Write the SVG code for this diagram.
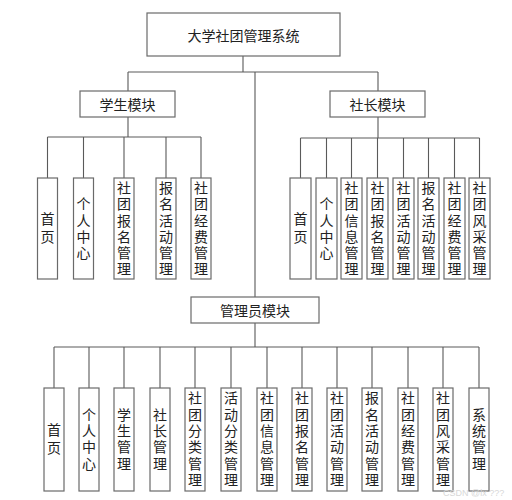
<svg xmlns="http://www.w3.org/2000/svg" width="512" height="500" viewBox="0 0 512 500">
<style>
.b{fill:#fff;stroke:#6a6a6a;stroke-width:1.2}
.c{fill:none;stroke:#5a5a5a;stroke-width:1.1}
.t{font-family:"Noto Sans CJK SC","Noto Sans",sans-serif;font-size:14px;fill:#222;text-anchor:middle;dominant-baseline:central}
.v{font-family:"Noto Sans CJK SC","Noto Sans",sans-serif;font-size:14px;fill:#222;text-anchor:middle;writing-mode:vertical-rl;letter-spacing:2.3px}
.v2{letter-spacing:4px}
.w{font-family:"Liberation Sans",sans-serif;font-size:9px;fill:#d8d8d8}
</style>
<rect width="512" height="500" fill="#fff"/>
<g id="connectors">
<path class="c" d="M243,56V72M128,72H378M255,72V297M128,72V91M378,72V91"/>
<path class="c" d="M128,117V137M47.5,137H201M47.5,137V178M83.5,137V178M124,137V178M166,137V178M201,137V178"/>
<path class="c" d="M378,117V138M300.5,138H479.5M300.5,138V178M326.5,138V178M351.5,138V178M377.5,138V178M403.5,138V178M428.5,138V178M454.5,138V178M479.5,138V178"/>
<path class="c" d="M255,323V347M54,347H479M54,347V388M89,347V388M124,347V388M160,347V388M195,347V388M231,347V388M267,347V388M302,347V388M337,347V388M372,347V388M408,347V388M443,347V388M479,347V388"/>
</g>
<g id="root"><rect class="b" x="147" y="13" width="193" height="43"/><text class="t" x="243.5" y="35">大学社团管理系统</text></g>
<g id="student"><rect class="b" x="80" y="91" width="95" height="26"/><text class="t" x="127.5" y="104">学生模块</text></g>
<g id="president"><rect class="b" x="330" y="91" width="95" height="26"/><text class="t" x="377.5" y="104">社长模块</text></g>
<g id="admin"><rect class="b" x="191" y="297" width="128" height="26"/><text class="t" x="255" y="310">管理员模块</text></g>

<g id="s1"><rect class="b" x="37.5" y="178" width="20" height="101"/><text class="v v2" x="47.5" y="230">首页</text></g>
<g id="s2"><rect class="b" x="73.5" y="178" width="20" height="101"/><text class="v" x="83.5" y="229.5">个人中心</text></g>
<g id="s3"><rect class="b" x="114" y="178" width="20" height="101"/><text class="v" x="124" y="229.5">社团报名管理</text></g>
<g id="s4"><rect class="b" x="156" y="178" width="20" height="101"/><text class="v" x="166" y="229.5">报名活动管理</text></g>
<g id="s5"><rect class="b" x="191" y="178" width="20" height="101"/><text class="v" x="201" y="229.5">社团经费管理</text></g>

<g id="p1"><rect class="b" x="290" y="178" width="21" height="101"/><text class="v v2" x="300.5" y="230">首页</text></g>
<g id="p2"><rect class="b" x="316" y="178" width="21" height="101"/><text class="v" x="326.5" y="229.5">个人中心</text></g>
<g id="p3"><rect class="b" x="341" y="178" width="21" height="101"/><text class="v" x="351.5" y="229.5">社团信息管理</text></g>
<g id="p4"><rect class="b" x="367" y="178" width="21" height="101"/><text class="v" x="377.5" y="229.5">社团报名管理</text></g>
<g id="p5"><rect class="b" x="393" y="178" width="21" height="101"/><text class="v" x="403.5" y="229.5">社团活动管理</text></g>
<g id="p6"><rect class="b" x="418" y="178" width="21" height="101"/><text class="v" x="428.5" y="229.5">报名活动管理</text></g>
<g id="p7"><rect class="b" x="444" y="178" width="21" height="101"/><text class="v" x="454.5" y="229.5">社团经费管理</text></g>
<g id="p8"><rect class="b" x="469" y="178" width="21" height="101"/><text class="v" x="479.5" y="229.5">社团风采管理</text></g>

<g id="a1"><rect class="b" x="44" y="388" width="20" height="103"/><text class="v v2" x="54" y="441">首页</text></g>
<g id="a2"><rect class="b" x="79" y="388" width="20" height="103"/><text class="v" x="89" y="440">个人中心</text></g>
<g id="a3"><rect class="b" x="114" y="388" width="20" height="103"/><text class="v" x="124" y="440">学生管理</text></g>
<g id="a4"><rect class="b" x="150" y="388" width="20" height="103"/><text class="v" x="160" y="440">社长管理</text></g>
<g id="a5"><rect class="b" x="185" y="388" width="20" height="103"/><text class="v" x="195" y="440">社团分类管理</text></g>
<g id="a6"><rect class="b" x="221" y="388" width="20" height="103"/><text class="v" x="231" y="440">活动分类管理</text></g>
<g id="a7"><rect class="b" x="257" y="388" width="20" height="103"/><text class="v" x="267" y="440">社团信息管理</text></g>
<g id="a8"><rect class="b" x="292" y="388" width="20" height="103"/><text class="v" x="302" y="440">社团报名管理</text></g>
<g id="a9"><rect class="b" x="327" y="388" width="20" height="103"/><text class="v" x="337" y="440">社团活动管理</text></g>
<g id="a10"><rect class="b" x="362" y="388" width="20" height="103"/><text class="v" x="372" y="440">报名活动管理</text></g>
<g id="a11"><rect class="b" x="398" y="388" width="20" height="103"/><text class="v" x="408" y="440">社团经费管理</text></g>
<g id="a12"><rect class="b" x="433" y="388" width="20" height="103"/><text class="v" x="443" y="440">社团风采管理</text></g>
<g id="a13"><rect class="b" x="469" y="388" width="20" height="103"/><text class="v" x="479" y="440">系统管理</text></g>
<text class="w" x="443" y="496">CSDN @lx ???</text>
</svg>
